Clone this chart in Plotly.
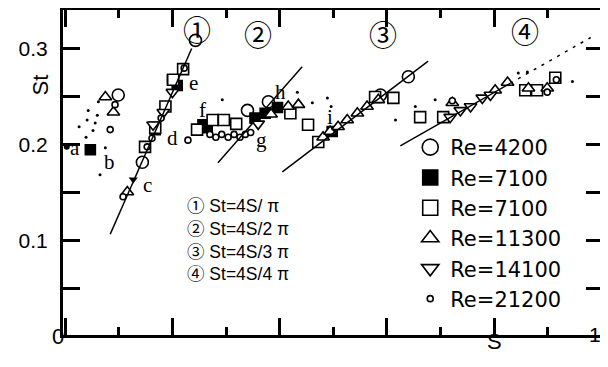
import math
import plotly.graph_objects as go

# ---------------- data ----------------
re4200_S = [0.243, 0.099, 0.144, 0.340, 0.379, 0.588, 0.640]
re4200_St = [0.309, 0.252, 0.182, 0.236, 0.245, 0.252, 0.271]

re7100f_S = [0.047, 0.200, 0.209, 0.168, 0.257, 0.265, 0.354, 0.373, 0.396, 0.498]
re7100f_St = [0.195, 0.268, 0.262, 0.216, 0.221, 0.218, 0.228, 0.233, 0.239, 0.214]

re7100o_S = [0.220, 0.2015, 0.187, 0.168, 0.149, 0.246, 0.275, 0.296, 0.319, 0.420,
             0.453, 0.472, 0.578, 0.612, 0.662, 0.705, 0.858, 0.880, 0.914]
re7100o_St = [0.279, 0.268, 0.240, 0.218, 0.198, 0.216, 0.226, 0.226, 0.222, 0.233,
              0.221, 0.203, 0.250, 0.249, 0.229, 0.229, 0.257, 0.257, 0.270]

re11300_S = [0.075, 0.090, 0.116, 0.416, 0.435, 0.481, 0.494, 0.509, 0.526, 0.545,
             0.563, 0.584, 0.722, 0.802, 0.825, 0.864, 0.899, 0.384]
re11300_St = [0.250, 0.234, 0.151, 0.240, 0.242, 0.208, 0.214, 0.219, 0.226, 0.233,
              0.240, 0.247, 0.244, 0.257, 0.265, 0.259, 0.259, 0.232]

re14100_S = [0.200, 0.183, 0.164, 0.718, 0.737, 0.756, 0.778, 0.793, 0.360]
re14100_St = [0.255, 0.234, 0.221, 0.229, 0.236, 0.240, 0.249, 0.252, 0.222]

re21200_S = [0.093, 0.084, 0.108, 0.179, 0.162, 0.153, 0.222, 0.229, 0.270, 0.281,
             0.292, 0.304, 0.315, 0.326, 0.336, 0.346, 0.916, 0.899, 0.722]
re21200_St = [0.242, 0.216, 0.146, 0.228, 0.207, 0.198, 0.280, 0.205, 0.211, 0.208,
              0.211, 0.208, 0.211, 0.208, 0.211, 0.213, 0.268, 0.255, 0.246]

dots_S = [0.062, 0.043, 0.060, 0.041, 0.026, 0.056, 0.052, 0.039, 0.075, 0.065,
          0.293, 0.433, 0.461, 0.489, 0.616, 0.653, 0.690, 0.845, 0.862, 0.946, 0.496]
dots_St = [0.245, 0.236, 0.231, 0.226, 0.219, 0.223, 0.215, 0.208, 0.197, 0.169,
           0.247, 0.255, 0.244, 0.249, 0.226, 0.240, 0.247, 0.275, 0.276, 0.266, 0.240]

point_a_S = [0.003]
point_a_St = [0.198]
arrow_c_S = [0.127]
arrow_c_St = [0.164]

# theoretical lines St = 4S/(n*pi): S extents
line_n = [1, 2, 3, 4]
line_S0 = [0.084, 0.285, 0.405, 0.625]
line_S1 = [0.236, 0.442, 0.677, 0.83]
line4_dash_S = [0.83, 0.98]

legend_names = ["Re=4200", "Re=7100", "Re=7100", "Re=11300", "Re=14100", "Re=21200"]

circ_labels = ["①", "②", "③", "④"]
circ_S = [0.246, 0.360, 0.593, 0.858]
circ_St = [0.321, 0.316, 0.316, 0.319]

letters = ["a", "b", "c", "d", "e", "f", "g", "h", "i"]
letter_S = [0.019, 0.082, 0.153, 0.200, 0.239, 0.257, 0.367, 0.401, 0.494]
letter_St = [0.197, 0.182, 0.158, 0.207, 0.265, 0.236, 0.205, 0.255, 0.229]

eq_lines = ["① St=4S/ π", "② St=4S/2 π", "③ St=4S/3 π", "④ St=4S/4 π"]
eq_S = 0.224
eq_St_mid = 0.1015

y_tickvals = [0.05, 0.1, 0.15, 0.2, 0.25, 0.3]
y_ticktext = ["", "0.1", "", "0.2", "", "0.3"]
x_long_ticks = [0.0, 0.2, 0.4, 0.6, 0.8, 1.0]
x_short_ticks = [0.1, 0.3, 0.5, 0.7, 0.9]

# ---------------- figure ----------------
fig = go.Figure()
BLK = "#000000"

def St_line(n, s):
    return 4 * s / (n * math.pi)

for n, s0, s1 in zip(line_n, line_S0, line_S1):
    fig.add_trace(go.Scatter(x=[s0, s1], y=[St_line(n, s0), St_line(n, s1)],
                             xaxis="x2", mode="lines", line=dict(color=BLK, width=1.5),
                             showlegend=False, hoverinfo="skip"))
fig.add_trace(go.Scatter(x=line4_dash_S, y=[St_line(4, s) for s in line4_dash_S],
                         xaxis="x2", mode="lines",
                         line=dict(color=BLK, width=1.5, dash="3px,6px"),
                         showlegend=False, hoverinfo="skip"))

series = [
    (re4200_S, re4200_St, "circle", 12, "white"),
    (re7100f_S, re7100f_St, "square", 10, BLK),
    (re7100o_S, re7100o_St, "square", 11, "white"),
    (re11300_S, re11300_St, "triangle-up", 11, "white"),
    (re14100_S, re14100_St, "triangle-down", 11, "white"),
    (re21200_S, re21200_St, "circle", 6, "white"),
]
for (xs, ys, sym, sz, fill) in series:
    fig.add_trace(go.Scatter(x=xs, y=ys, mode="markers", showlegend=False,
                             marker=dict(symbol=sym, size=sz, color=fill,
                                         line=dict(color=BLK, width=1.6))))

fig.add_trace(go.Scatter(x=dots_S, y=dots_St, mode="markers", showlegend=False,
                         marker=dict(symbol="circle", size=3, color=BLK, line=dict(width=0))))
fig.add_trace(go.Scatter(x=point_a_S, y=point_a_St, mode="markers", showlegend=False,
                         cliponaxis=False,
                         marker=dict(symbol="circle", size=6, color=BLK, line=dict(width=0))))
fig.add_trace(go.Scatter(x=arrow_c_S, y=arrow_c_St, mode="markers", showlegend=False,
                         marker=dict(symbol="triangle-down", size=8, color=BLK, line=dict(width=0))))

# legend entries (larger symbols as in the printed key)
leg_style = [("circle", 16, "white"), ("square", 15, BLK), ("square", 15, "white"),
             ("triangle-up", 15, "white"), ("triangle-down", 15, "white"), ("circle", 6, "white")]
for name, (sym, sz, fill) in zip(legend_names, leg_style):
    fig.add_trace(go.Scatter(x=[None], y=[None], mode="markers", name=name,
                             marker=dict(symbol=sym, size=sz, color=fill,
                                         line=dict(color=BLK, width=1.6))))

ann = []
for t, s, st in zip(circ_labels, circ_S, circ_St):
    ann.append(dict(x=s, y=st, xref="x", yref="y", text=t, showarrow=False,
                    font=dict(family="Noto Sans CJK JP", size=28, color=BLK)))
for t, s, st in zip(letters, letter_S, letter_St):
    ann.append(dict(x=s, y=st, xref="x", yref="y", text=t, showarrow=False,
                    font=dict(family="Liberation Serif", size=21, color=BLK)))
ann.append(dict(x=eq_S, y=eq_St_mid, xref="x", yref="y", text="<br>".join(eq_lines),
                showarrow=False, xanchor="left", align="left",
                font=dict(family="Liberation Sans, Noto Sans CJK JP", size=17.5, color=BLK)))
ann.append(dict(x=-0.024, y=-0.049, xref="paper", yref="paper", text="0", showarrow=False,
                font=dict(family="Liberation Sans", size=22, color=BLK)))
ann.append(dict(x=0.8, y=-0.065, xref="x", yref="paper", text="S", showarrow=False,
                font=dict(family="Liberation Sans", size=22, color=BLK)))
ann.append(dict(x=1.0, y=-0.04, xref="paper", yref="paper", text="1", showarrow=False,
                xanchor="right", font=dict(family="Liberation Sans", size=21, color=BLK)))
ann.append(dict(x=-0.0685, y=0.2625, xref="paper", yref="y", text="St", showarrow=False,
                textangle=-90, font=dict(family="Liberation Sans", size=22, color=BLK)))

axis_common = dict(showgrid=False, zeroline=False, automargin=False,
                   showline=True, linecolor=BLK, linewidth=3, mirror="ticks",
                   ticks="inside", tickwidth=2.5, tickcolor=BLK, layer="above traces")

# the page body adds an 8px margin, so the figure is 8px smaller on each axis
fig.update_layout(
    template="none",
    width=600, height=359,
    margin=dict(l=55, r=5, t=2, b=32, pad=0, autoexpand=False),
    paper_bgcolor="white", plot_bgcolor="white",
    showlegend=True,
    legend=dict(x=0.643, y=0.64, xanchor="left", yanchor="top",
                bgcolor="rgba(0,0,0,0)", borderwidth=0,
                font=dict(family="DejaVu Sans", size=21, color=BLK),
                itemsizing="trace"),
    annotations=ann,
    xaxis=dict(range=[-0.004, 1.003], ticklen=8, tickmode="array",
               tickvals=x_short_ticks, showticklabels=False, **axis_common),
    xaxis2=dict(range=[-0.004, 1.003], overlaying="x", anchor="y", side="bottom",
                ticklen=17, tickmode="array", tickvals=x_long_ticks,
                showticklabels=False, **axis_common),
    yaxis=dict(range=[0.002, 0.3406], ticklen=17, tickmode="array",
               tickvals=y_tickvals, ticktext=y_ticktext, ticklabelstandoff=8,
               tickfont=dict(family="Liberation Sans", size=21, color=BLK),
               **axis_common),
)

fig.write_html("out.html")
